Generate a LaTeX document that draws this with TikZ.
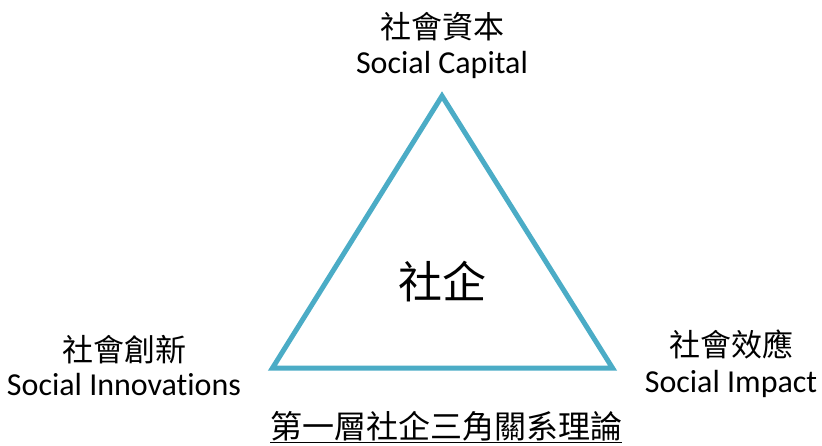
\documentclass[tikz,border=0pt]{standalone}
\usepackage{fontspec}
\setmainfont{Carlito}[Ligatures={NoCommon,NoContextual,NoRare},Contextuals=NoAlternate]
\newfontfamily\cjk{Noto Sans CJK TC}
\usetikzlibrary{positioning}

\definecolor{triblue}{HTML}{4BACC6}

\begin{document}
\begin{tikzpicture}[
            x = 1pt,
            y = -1pt,
            tri/.style = {
                draw = triblue,
                line width = 5pt,
                line join = miter
            },
            zh/.style = {
                font = \cjk\fontsize{#1}{#1}\selectfont,
                inner sep = 0pt,
                outer sep = 0pt
            },
            zh/.default = 31,
            en/.style = {
                font = \fontsize{32}{32}\selectfont,
                anchor = base,
                inner sep = 0pt
            }
            ]
            \useasboundingbox (0,0) rectangle (822,446);

            % triangle corners
            \coordinate (apex) at (442,96);
            \coordinate (left) at (272.5,368);
            \coordinate (right) at (612.5,368);
            \draw[tri] (apex) -- (right) -- (left) -- cycle;

            \node[zh=44] (core) at (442,282) {社企};

            % corner labels
            \node[zh] (capzh) at (442,27) {社會資本};
            \node[en] (capen) at (442,74) {Social Capital};
            \node[zh] (innzh) at (124,350) {社會創新};
            \node[en] (innen) at (124,395) {Social Innovations};
            \node[zh] (impzh) at (731,344) {社會效應};
            \node[en] (impen) at (731,392) {Social Impact};

            \node[zh=32, anchor=base] (title) at (446,438) {\underline{第一層社企三角關系理論}};
        \end{tikzpicture}
\end{document}
